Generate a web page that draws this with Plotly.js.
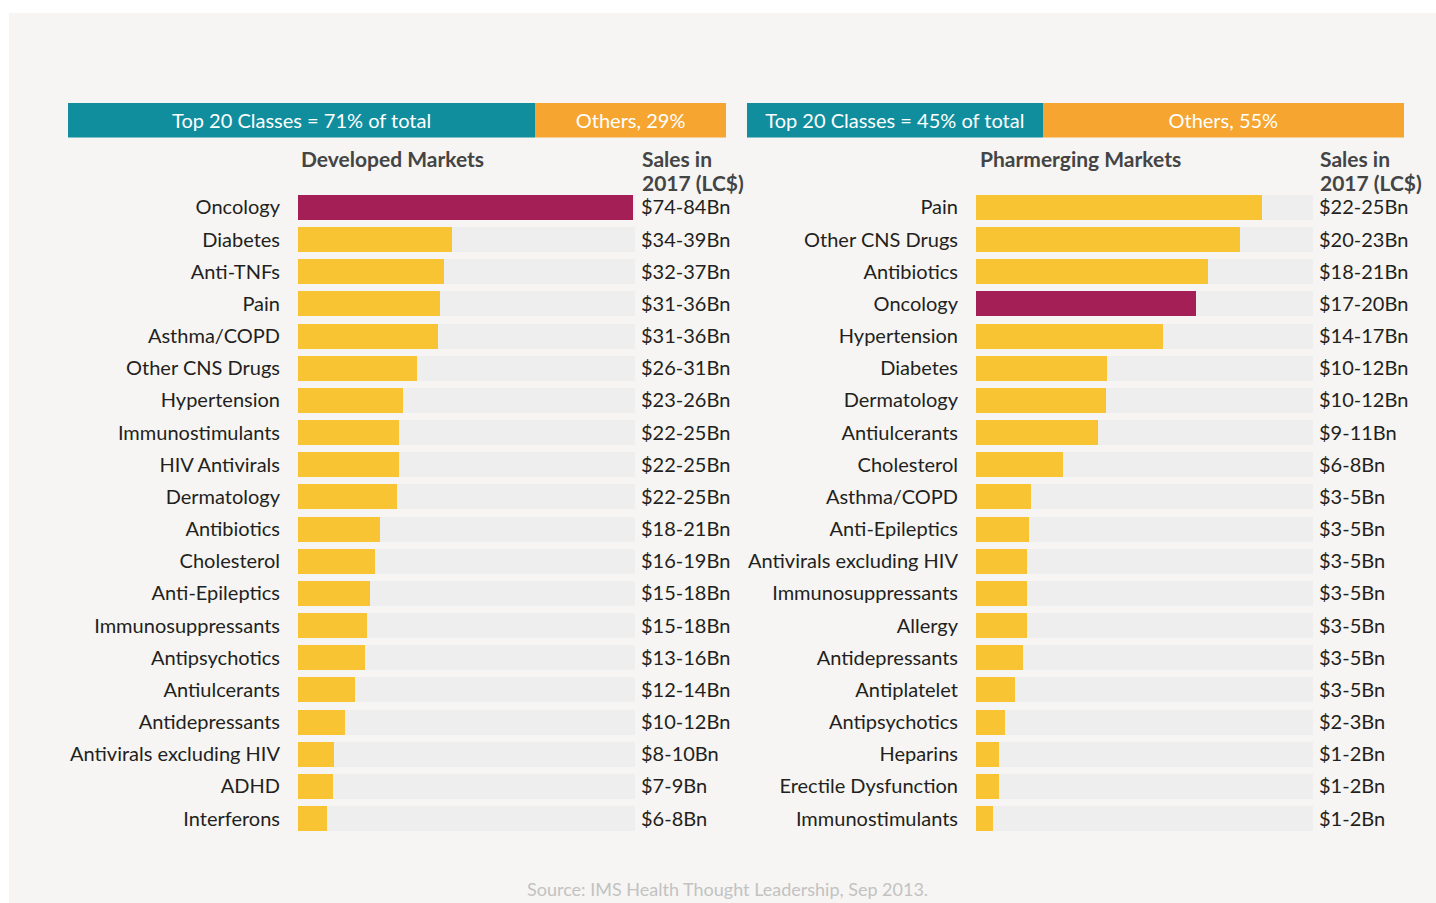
<!DOCTYPE html>
<html>
<head>
<meta charset="utf-8">
<script src="https://cdn.plot.ly/plotly-3.0.1.min.js"></script>
<style>html,body{margin:0;padding:0;background:#fff;}#chart{width:1436px;height:903px;}</style>
</head>
<body>
<div id="chart"></div>
<script>
// ---- Data ----
const devCategories = ["Oncology","Diabetes","Anti-TNFs","Pain","Asthma/COPD","Other CNS Drugs","Hypertension","Immunostimulants","HIV Antivirals","Dermatology","Antibiotics","Cholesterol","Anti-Epileptics","Immunosuppressants","Antipsychotics","Antiulcerants","Antidepressants","Antivirals excluding HIV","ADHD","Interferons"];
const devSales = [79.5,36.6,34.7,33.7,33.2,28.2,24.9,24.0,24.0,23.5,19.5,18.3,17.1,16.4,15.9,13.5,11.2,8.5,8.3,6.9];
const devRanges = ["$74-84Bn","$34-39Bn","$32-37Bn","$31-36Bn","$31-36Bn","$26-31Bn","$23-26Bn","$22-25Bn","$22-25Bn","$22-25Bn","$18-21Bn","$16-19Bn","$15-18Bn","$15-18Bn","$13-16Bn","$12-14Bn","$10-12Bn","$8-10Bn","$7-9Bn","$6-8Bn"];

const phaCategories = ["Pain","Other CNS Drugs","Antibiotics","Oncology","Hypertension","Diabetes","Dermatology","Antiulcerants","Cholesterol","Asthma/COPD","Anti-Epileptics","Antivirals excluding HIV","Immunosuppressants","Allergy","Antidepressants","Antiplatelet","Antipsychotics","Heparins","Erectile Dysfunction","Immunostimulants"];
const phaSales = [23.8,21.9,19.3,18.3,15.5,10.9,10.8,10.1,7.2,4.6,4.4,4.2,4.2,4.2,3.9,3.2,2.4,1.9,1.9,1.4];
const phaRanges = ["$22-25Bn","$20-23Bn","$18-21Bn","$17-20Bn","$14-17Bn","$10-12Bn","$10-12Bn","$9-11Bn","$6-8Bn","$3-5Bn","$3-5Bn","$3-5Bn","$3-5Bn","$3-5Bn","$3-5Bn","$3-5Bn","$2-3Bn","$1-2Bn","$1-2Bn","$1-2Bn"];

const devShares = [71, 29];   // Top 20 classes, Others (%)
const phaShares = [45, 55];
const devAxisMax = 80;
const phaAxisMax = 28;
const highlightCategory = "Oncology";

// ---- Styles ----
const W = 1436, H = 903;
const FONT = "Lato, 'Open Sans', sans-serif";
const C = {bg:"#f6f5f3", track:"#eeeeee", bar:"#f9c433", hi:"#a41f56", teal:"#118e9e", orange:"#f5a530", text:"#231f20", head:"#444444", src:"#c2c2c2"};
const px = v => v / W;
const py = v => 1 - v / H;
const barW = 0.777;

const mainY = [py(834.6), py(191.4)];

function panelTraces(cats, vals, axisMax, xa, yTrack, yBar){
  return [
    {type:"bar", orientation:"h", y:cats, x:cats.map(()=>axisMax), xaxis:xa, yaxis:yTrack,
     width:barW, marker:{color:C.track}, hoverinfo:"skip", showlegend:false},
    {type:"bar", orientation:"h", y:cats, x:vals, xaxis:xa, yaxis:yBar,
     width:barW, marker:{color:cats.map(c=>c===highlightCategory?C.hi:C.bar)}, hoverinfo:"skip", showlegend:false}
  ];
}
function headerTraces(shares, xa, ya){
  const labels = ["Top 20 Classes = "+shares[0]+"% of total", "Others, "+shares[1]+"%"];
  const cols = [C.teal, C.orange];
  return shares.map((s,i)=>({type:"bar", orientation:"h", y:[0], x:[s], xaxis:xa, yaxis:ya, width:1,
    marker:{color:cols[i]}, text:[labels[i]], textposition:"inside", insidetextanchor:"middle", textangle:0,
    constraintext:"none", textfont:{family:FONT, size:20, color:"#ffffff"}, hoverinfo:"skip", showlegend:false}));
}

const data = [
  ...panelTraces(devCategories, devSales, devAxisMax, "x", "y", "y2"),
  ...panelTraces(phaCategories, phaSales, phaAxisMax, "x2", "y3", "y4"),
  ...headerTraces(devShares, "x3", "y5"),
  ...headerTraces(phaShares, "x4", "y6")
];

const hidden = {visible:false, fixedrange:true};
function catAxis(cats, extra){
  return Object.assign({type:"category", categoryorder:"array", categoryarray:cats, autorange:"reversed",
    showgrid:false, zeroline:false, showline:false, ticks:"outside", tickcolor:"rgba(0,0,0,0)",
    tickfont:{family:FONT, size:20, color:C.text}, fixedrange:true}, extra);
}
const headFont = {family:FONT, size:21, color:C.head};
function head(text, x, y){
  return {text:"<b>"+text+"</b>", xref:"paper", yref:"paper", x:px(x), y:py(y), xanchor:"left", yanchor:"middle", showarrow:false, font:headFont};
}

const layout = {
  width:W, height:H, margin:{l:0,r:0,t:0,b:0}, paper_bgcolor:"#ffffff", plot_bgcolor:"rgba(0,0,0,0)",
  barmode:"stack", showlegend:false,
  shapes:[{type:"rect", xref:"paper", yref:"paper", x0:px(9), x1:1, y0:0, y1:py(13), fillcolor:C.bg, line:{width:0}, layer:"below"}],
  xaxis: Object.assign({domain:[px(298), px(635)], range:[0, devAxisMax], anchor:"y"}, hidden),
  yaxis: catAxis(devCategories, {domain:mainY, anchor:"x", side:"left", ticklen:13}),
  yaxis2: catAxis(devCategories, {overlaying:"y", anchor:"x", side:"right", ticklen:1, tickmode:"array", tickvals:devCategories, ticktext:devRanges}),
  xaxis2: Object.assign({domain:[px(976), px(1313)], range:[0, phaAxisMax], anchor:"y3"}, hidden),
  yaxis3: catAxis(phaCategories, {domain:mainY, anchor:"x2", side:"left", ticklen:13}),
  yaxis4: catAxis(phaCategories, {overlaying:"y3", anchor:"x2", side:"right", ticklen:1, tickmode:"array", tickvals:phaCategories, ticktext:phaRanges}),
  xaxis3: Object.assign({domain:[px(68), px(726)], range:[0, devShares[0]+devShares[1]], anchor:"y5"}, hidden),
  yaxis5: Object.assign({domain:[py(137.5), py(103)], range:[-0.5, 0.5], anchor:"x3"}, hidden),
  xaxis4: Object.assign({domain:[px(747), px(1404)], range:[0, phaShares[0]+phaShares[1]], anchor:"y6"}, hidden),
  yaxis6: Object.assign({domain:[py(137.5), py(103)], range:[-0.5, 0.5], anchor:"x4"}, hidden),
  annotations:[
    head("Developed Markets", 299, 159),
    head("Sales in", 640, 159),
    head("2017 (LC$)", 640, 182),
    head("Pharmerging Markets", 978, 159),
    head("Sales in", 1318, 159),
    head("2017 (LC$)", 1318, 182),
    {text:"Source: IMS Health Thought Leadership, Sep 2013.", xref:"paper", yref:"paper", x:px(727), y:py(889), xanchor:"center", yanchor:"middle", showarrow:false, font:{family:FONT, size:18, color:C.src}}
  ]
};

Plotly.newPlot("chart", data, layout, {staticPlot:true, displayModeBar:false});
</script>
</body>
</html>
